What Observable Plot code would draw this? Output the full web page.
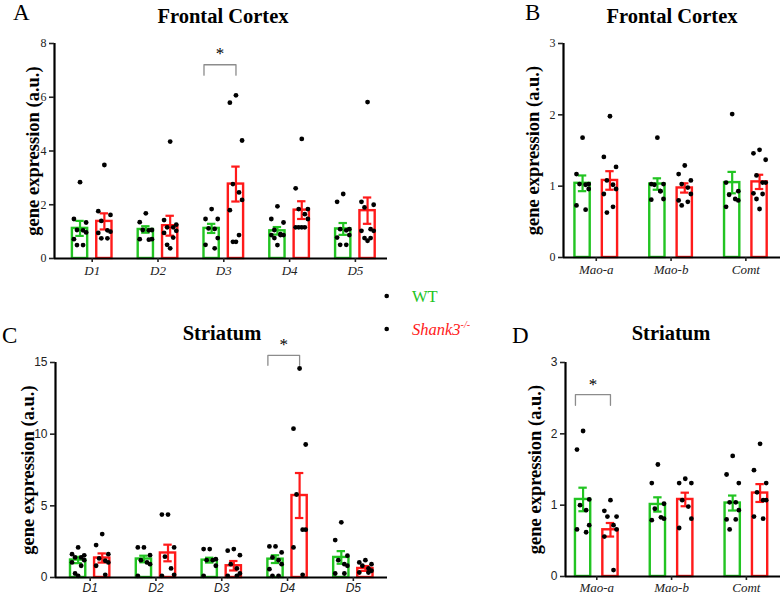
<!DOCTYPE html>
<html><head><meta charset="utf-8">
<script src="https://cdn.jsdelivr.net/npm/d3@7"></script>
<script src="https://cdn.jsdelivr.net/npm/@observablehq/plot@0.6"></script>
<style>
html,body{margin:0;padding:0;background:#fff;}
#root{position:relative;width:780px;height:594px;overflow:hidden;background:#fff;}
.panel{position:absolute;}
#overlay{position:absolute;left:0;top:0;}
</style></head><body><div id="root"></div>
<script>
// ---------- data ----------
const groups = ["WT", "Shank3-/-"];
const dGenes = ["D1", "D2", "D3", "D4", "D5"];
const enzymes = ["Mao-a", "Mao-b", "Comt"];
const yLabel = "gene expression (a.u.)";

// A: Frontal cortex, dopamine receptors
const aWtMean = [1.12, 1.08, 1.12, 1.03, 1.10];
const aWtSem  = [0.28, 0.12, 0.17, 0.14, 0.22];
const aKoMean = [1.38, 1.22, 2.77, 1.80, 1.78];
const aKoSem  = [0.30, 0.37, 0.65, 0.33, 0.49];
const aWtDots = [
  [2.84, 1.47, 1.34, 1.06, 1.05, 0.97, 0.72, 0.50, 0.50],
  [1.68, 1.35, 1.06, 1.06, 1.05, 0.72, 0.72, 0.70],
  [1.84, 1.47, 1.47, 1.12, 1.10, 0.76, 0.51, 0.38],
  [1.94, 1.47, 1.34, 1.06, 0.91, 0.87, 0.87, 0.87, 0.76, 0.50],
  [2.40, 2.11, 1.09, 1.09, 1.05, 0.87, 0.78, 0.51, 0.51]
];
const aKoDots = [
  [3.48, 1.76, 1.62, 1.40, 1.05, 1.00, 0.95, 0.75, 0.75],
  [4.35, 1.43, 1.26, 1.16, 1.16, 1.03, 0.95, 0.78, 0.51, 0.38],
  [6.07, 5.80, 4.39, 2.77, 2.46, 2.18, 1.80, 0.87, 0.62, 0.62],
  [4.45, 2.61, 1.84, 1.84, 1.65, 1.47, 1.16, 1.16, 1.16, 1.16],
  [5.82, 2.11, 2.00, 1.90, 1.09, 1.03, 1.03, 0.76, 0.76, 0.66]
];

// B: Frontal cortex, enzymes
const bWtMean = [1.04, 1.03, 1.05];
const bWtSem  = [0.11, 0.08, 0.15];
const bKoMean = [1.08, 0.975, 1.06];
const bKoSem  = [0.13, 0.065, 0.10];
const bWtDots = [
  [1.68, 1.17, 1.03, 1.03, 1.02, 0.96, 0.73, 0.67],
  [1.68, 1.03, 1.03, 1.02, 0.93, 0.82, 0.81, 0.93],
  [2.01, 1.05, 0.93, 0.88, 0.82, 0.80, 0.71]
];
const bKoDots = [
  [1.98, 1.41, 1.27, 1.08, 1.02, 0.96, 0.89, 0.71, 0.63],
  [1.29, 1.17, 1.08, 1.03, 0.98, 0.89, 0.80, 0.78, 0.73],
  [1.51, 1.46, 1.37, 1.15, 1.05, 1.05, 0.90, 0.89, 0.82, 0.68]
];

// C: Striatum, dopamine receptors
const cWtMean = [1.22, 1.29, 1.21, 1.28, 1.40];
const cWtSem  = [0.22, 0.23, 0.17, 0.27, 0.44];
const cKoMean = [1.36, 1.71, 0.82, 5.72, 0.63];
const cKoSem  = [0.32, 0.58, 0.33, 1.57, 0.17];
const cWtDots = [
  [2.10, 1.63, 1.55, 1.40, 1.40, 1.21, 1.05, 0.82, 0.28, 0.12],
  [2.10, 2.10, 1.56, 1.21, 1.05, 0.93, 0.12],
  [1.98, 1.98, 1.28, 1.21, 1.21, 0.82, 0.12],
  [2.17, 2.17, 1.75, 1.40, 1.21, 0.93, 0.58, 0.12, 0.12],
  [3.85, 2.61, 1.52, 1.21, 0.93, 0.82, 0.28, 0.28]
];
const cKoDots = [
  [3.03, 2.26, 1.63, 1.33, 1.17, 1.05, 0.82, 0.19],
  [4.39, 4.39, 2.10, 1.45, 0.63, 0.19, 0.12],
  [1.98, 1.87, 1.56, 0.93, 0.63, 0.28, 0.12, 0.12],
  [14.58, 10.38, 9.28, 5.79, 3.34, 3.34, 2.10, 0.19],
  [1.21, 1.05, 0.93, 0.82, 0.63, 0.47, 0.35, 0.35]
];

// D: Striatum, enzymes
const dWtMean = [1.08, 1.01, 1.03];
const dWtSem  = [0.165, 0.10, 0.105];
const dKoMean = [0.655, 1.08, 1.17];
const dKoSem  = [0.095, 0.095, 0.125];
const dWtDots = [
  [2.04, 1.78, 1.08, 1.00, 0.93, 0.72, 0.66, 0.62],
  [1.57, 1.31, 1.02, 0.95, 0.83, 0.81, 0.79],
  [1.69, 1.43, 1.31, 1.04, 1.04, 0.93, 0.80, 0.80, 0.66]
];
const dKoDots = [
  [1.07, 0.92, 0.84, 0.84, 0.72, 0.66, 0.56, 0.09],
  [1.37, 1.31, 1.31, 1.07, 0.98, 0.81, 0.68],
  [1.86, 1.49, 1.31, 1.18, 1.07, 1.07, 0.84, 0.81]
];

// significance brackets: category index, top, lower ends, star level
const aSig = {cat: 2, top: 7.21, low: 6.82, star: 7.62};
const cSig = {cat: 3, top: 15.5, low: 14.8, star: 16.25};
const dSig = {cat: 0, top: 2.55, low: 2.40, star: 2.69};

// ---------- styles ----------
const GREEN = "#22c422";
const RED = "#ff1a1a";
const SERIF = "Liberation Serif, Times New Roman, serif";
const SANS = "Liberation Sans, Arial, sans-serif";
const jitter = [0, -0.8, 0.8, -0.4, 0.4, 0.8, -0.8, 0.4, -0.4, 0];

function panel(cfg) {
  const {cats, wtMean, wtSem, koMean, koSem, wtDots, koDots, yMax, yTicks,
         xDomain, off, halfW, width, height, mt, mb, ml, mr, tickFont, xFont,
         labelDx, sig} = cfg;
  const bars = [], dots = [];
  cats.forEach((c, i) => {
    [[groups[0], -off, wtMean, wtSem, wtDots], [groups[1], off, koMean, koSem, koDots]]
      .forEach(([g, o, m, s, ds]) => {
        const x = i + o;
        bars.push({g, x, mean: m[i], sem: s[i]});
        ds[i].forEach((v, j) => dots.push({x: x + jitter[j % jitter.length] * halfW, y: v}));
      });
  });
  const capW = halfW * 0.55;
  const marks = [
    Plot.rectY(bars, {x1: d => d.x - halfW, x2: d => d.x + halfW, y1: 0, y2: "mean",
      stroke: "g", fill: "white", strokeWidth: 2.4}),
    Plot.ruleX(bars, {x: "x", y1: d => d.mean - d.sem, y2: d => d.mean + d.sem, stroke: "g", strokeWidth: 2.2}),
    Plot.ruleY(bars, {y: d => d.mean + d.sem, x1: d => d.x - capW, x2: d => d.x + capW, stroke: "g", strokeWidth: 2.2}),
    Plot.ruleY(bars, {y: d => d.mean - d.sem, x1: d => d.x - capW, x2: d => d.x + capW, stroke: "g", strokeWidth: 2.2}),
    Plot.dot(dots, {x: "x", y: "y", r: 2.4, fill: "black"}),
    Plot.ruleY([0], {strokeWidth: 2.2, stroke: "black"}),
    Plot.ruleX([xDomain[0]], {strokeWidth: 2.2, stroke: "black"}),
    Plot.axisY({ticks: yTicks, tickSize: 5, tickPadding: 3, tickFormat: d => String(d),
      fontFamily: tickFont.family, fontSize: tickFont.size, strokeWidth: 1.6, label: null, color: "#222"}),
    Plot.axisX({ticks: d3.range(cats.length), tickFormat: i => cats[i], tickSize: 4, tickPadding: xFont.pad,
      fontFamily: xFont.family, fontSize: xFont.size, fontStyle: "italic", strokeWidth: 1.6, label: null, color: "#222"}),
    Plot.text([yLabel], {frameAnchor: "left", textAnchor: "middle", lineAnchor: "middle", rotate: -90, dx: labelDx, text: d => d,
      fontWeight: "bold", fontSize: 18.5, fontFamily: SERIF, fill: "black"})
  ];
  if (sig) {
    const x1 = sig.cat - off - halfW, x2 = sig.cat + off;
    const pts = [{x: x1, y: sig.low}, {x: x1, y: sig.top}, {x: x2, y: sig.top}, {x: x2, y: sig.low}];
    marks.push(Plot.line(pts, {x: "x", y: "y", stroke: "#8c8c8c", strokeWidth: 1.3}));
    marks.push(Plot.text([sig], {x: d => (x1 + x2) / 2, y: "star", text: () => "*",
      fontSize: 17, fontFamily: SERIF, fill: "black"}));
  }
  return Plot.plot({
    width, height, marginTop: mt, marginBottom: mb, marginLeft: ml, marginRight: mr,
    x: {type: "linear", domain: xDomain},
    y: {domain: [0, yMax]},
    color: {domain: groups, range: [GREEN, RED]},
    style: {background: "none", overflow: "visible"},
    marks
  });
}

const root = document.getElementById("root");
function place(el, left, top) {
  el.classList.add("panel");
  el.style.left = left + "px";
  el.style.top = top + "px";
  root.appendChild(el);
}

const serifTicks = {family: SERIF, size: 12};
const sansTicks = {family: SANS, size: 12};

place(panel({cats: dGenes, wtMean: aWtMean, wtSem: aWtSem, koMean: aKoMean, koSem: aKoSem,
  wtDots: aWtDots, koDots: aKoDots, yMax: 8, yTicks: [0, 2, 4, 6, 8],
  xDomain: [-0.573, 4.488], off: 0.185, halfW: 0.116, width: 390, height: 285,
  mt: 43, mb: 27, ml: 54, mr: 3, tickFont: serifTicks,
  xFont: {family: SERIF, size: 13, pad: 3}, labelDx: -21, sig: aSig}), 0, 0);

place(panel({cats: enzymes, wtMean: bWtMean, wtSem: bWtSem, koMean: bKoMean, koSem: bKoSem,
  wtDots: bWtDots, koDots: bKoDots, yMax: 3, yTicks: [0, 1, 2, 3],
  xDomain: [-0.438, 2.463], off: 0.183, halfW: 0.102, width: 390, height: 285,
  mt: 43, mb: 28, ml: 173, mr: 0, tickFont: serifTicks,
  xFont: {family: SERIF, size: 13, pad: 3}, labelDx: -30, sig: null}), 390, 0);

place(panel({cats: dGenes, wtMean: cWtMean, wtSem: cWtSem, koMean: cKoMean, koSem: cKoSem,
  wtDots: cWtDots, koDots: cKoDots, yMax: 15, yTicks: [0, 5, 10, 15],
  xDomain: [-0.527, 4.519], off: 0.183, halfW: 0.116, width: 390, height: 304,
  mt: 72, mb: 17, ml: 55, mr: 3, tickFont: sansTicks,
  xFont: {family: SANS, size: 12, pad: 2}, labelDx: -27, sig: cSig}), 0, 290);

place(panel({cats: enzymes, wtMean: dWtMean, wtSem: dWtSem, koMean: dKoMean, koSem: dKoSem,
  wtDots: dWtDots, koDots: dKoDots, yMax: 3, yTicks: [0, 1, 2, 3],
  xDomain: [-0.418, 2.456], off: 0.183, halfW: 0.102, width: 390, height: 304,
  mt: 72, mb: 18, ml: 175, mr: 0, tickFont: sansTicks,
  xFont: {family: SERIF, size: 13, pad: 2}, labelDx: -30, sig: dSig}), 390, 290);

// ---------- titles, panel letters, legend ----------
const NS = "http://www.w3.org/2000/svg";
const ov = document.createElementNS(NS, "svg");
ov.setAttribute("id", "overlay");
ov.setAttribute("width", 780);
ov.setAttribute("height", 594);
root.appendChild(ov);
function txt(s, x, y, attrs) {
  const t = document.createElementNS(NS, "text");
  t.setAttribute("x", x); t.setAttribute("y", y);
  for (const k in attrs) t.setAttribute(k, attrs[k]);
  t.textContent = s;
  ov.appendChild(t);
  return t;
}
const letterStyle = {"font-family": SERIF, "font-size": 23};
txt("A", 13, 19.5, letterStyle);
txt("B", 525, 19.5, letterStyle);
txt("C", 2, 343, letterStyle);
txt("D", 512, 343, letterStyle);
const titleStyle = {"font-family": SERIF, "font-size": 20.5, "font-weight": "bold", "text-anchor": "middle"};
const titles = ["Frontal Cortex", "Frontal Cortex", "Striatum", "Striatum"];
txt(titles[0], 223, 22.7, titleStyle);
txt(titles[1], 672, 22.7, titleStyle);
txt(titles[2], 222, 340, titleStyle);
txt(titles[3], 671, 340, titleStyle);

// legend
[[296, GREEN], [329, RED]].forEach(([y]) => {
  const c = document.createElementNS(NS, "circle");
  c.setAttribute("cx", 386.7); c.setAttribute("cy", y); c.setAttribute("r", 2.3);
  c.setAttribute("fill", "black");
  ov.appendChild(c);
});
txt(groups[0], 412, 301.5, {"font-family": SERIF, "font-size": 16.5, fill: GREEN});
const ko = txt("Shank3", 412, 335, {"font-family": SERIF, "font-size": 16.5, "font-style": "italic", fill: RED});
const sup = document.createElementNS(NS, "tspan");
sup.setAttribute("dy", -7); sup.setAttribute("font-size", 10);
sup.textContent = "-/-";
ko.appendChild(sup);
</script>
</body></html>
